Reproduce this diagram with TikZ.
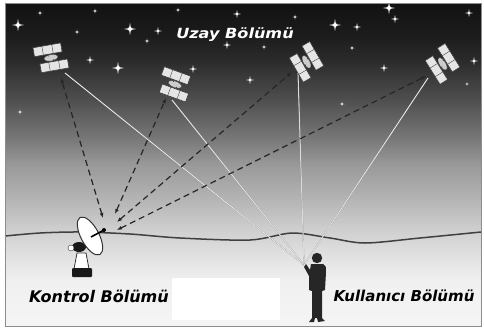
\documentclass[tikz,border=0pt]{standalone}
\usepackage{fontspec}
\newfontfamily\labelfont{DejaVu Sans}
\usetikzlibrary{arrows.meta}

% sky: dark at the top, nearly white at the ground
\pgfdeclareverticalshading{sky}{100bp}{color(0bp)=(black!4); color(25bp)=(black!4);
  color(32bp)=(black!6); color(36bp)=(black!12); color(40bp)=(black!19);
  color(44.5bp)=(black!29); color(50bp)=(black!40); color(54bp)=(black!53);
  color(60bp)=(black!69); color(66bp)=(black!83); color(70bp)=(black!89);
  color(75bp)=(black!93); color(100bp)=(black!93)}

\tikzset{link/.style = {dash pattern=on 6pt off 4pt, line width=1.2pt, black!85,
                        {Latex[length=5pt,width=4pt]}-{Latex[length=5pt,width=4pt]}}}
\tikzset{ray/.style = {draw=black!40, double=white, double distance=0.5pt,
                       line width=0.3pt}}
\tikzset{panel/.style = {fill=black!10, draw=black!75, line width=0.6pt}}
\tikzset{segtext/.style = {font=\labelfont\bfseries\itshape\fontsize{15}{15}\selectfont,
                           inner sep=0pt}}
\tikzset{pics/satellite/.style = {code = {
  \draw [panel] (-15,-13) rectangle (13,-4);
  \draw [panel] (-11,4) rectangle (17,13);
  \draw [black!75] (-6,-13) -- (-6,-4) (4,-13) -- (4,-4);
  \draw [black!75] (-2,4) -- (-2,13) (8,4) -- (8,13);
  \draw [black!75, fill=black!20] (1,0) ellipse [x radius=7, y radius=3.2];
  \draw [black!75, line width=0.8pt] (-3,-4) -- (-1,-2) (3,2) -- (5,4);
}}}

\begin{document}
\begin{tikzpicture}[x=1pt, y=-1pt]
  \useasboundingbox (0,0) rectangle (484,330);
  \shade [shading=sky] (5,3) rectangle (481,326);

  % stars
  \foreach \x/\y/\r in {18/25/6, 130/29/6, 118/68/6, 389/8/6, 335/25/6,
                        158/31/4, 227/45/4, 90/60/4, 193/69/4, 237/14/4, 395/19/4,
                        357/27/4, 469/13/4, 250/80/4, 384/68/4, 474/61/4,
                        40/13/2.5, 95/11/2.5, 77/32/2.5, 147/41/2.5, 178/10/2.5,
                        20/112/2.5, 295/17/2.5, 264/47/2.5, 352/48/2.5,
                        342/104/2.5, 467/84/2}
    {
      \fill [white, opacity=0.35] (\x,\y) circle [radius=0.4*\r];
      \fill [white] (\x,\y) +(\r,0) -- +({0.15*\r},{0.15*\r}) -- +(0,\r)
        -- +({-0.15*\r},{0.15*\r}) -- +(-\r,0) -- +({-0.15*\r},{-0.15*\r})
        -- +(0,-\r) -- +({0.15*\r},{-0.15*\r}) -- cycle;
    }

  % ground
  \draw [black!75, line width=1.5pt] plot [smooth] coordinates {(5,236) (40,233) (80,232)
    (130,234) (180,238) (250,240) (292,233) (330,238) (365,243) (420,238) (481,232)};

  \coordinate (hand) at (304,265);
  \coordinate (t1) at (61,78);
  \coordinate (t2) at (166,98);
  \coordinate (t3) at (292,72);
  \coordinate (t4) at (426,76);
  \coordinate (d1) at (103,218);
  \coordinate (d2) at (115,214);
  \coordinate (d3) at (117,222);
  \coordinate (d4) at (117,230);

  % downlinks to the user
  \draw [ray] (65,73) -- (hand);
  \draw [ray] (172,100) -- (hand);
  \draw [ray] (298,73) -- (hand);
  \draw [ray] (428,78) -- (hand);

  % control links
  \draw [link] (d1) -- (t1);
  \draw [link] (d2) -- (t2);
  \draw [link] (d3) -- (t3);
  \draw [link] (d4) -- (t4);

  \pic [rotate=10] at (50,58) {satellite};
  \pic [rotate=-20] at (174,84) {satellite};
  \pic [rotate=-60] at (306,61) {satellite};
  \pic [rotate=-58] at (442,63) {satellite};

  % ground station
  \fill [black!90] (79,247) ellipse [x radius=7, y radius=5];
  \draw [black!80, fill=white] (71,248) circle [radius=3];
  \draw [black!80, fill=white, line width=0.8pt] (77,253) -- (86,253) -- (89,269)
    -- (74,269) -- cycle;
  \fill [black!90, rounded corners=1pt] (72,268) rectangle (92,277);
  \begin{scope}[shift={(90,236)}, rotate=-62]
    \draw [black!80, fill=white, line width=1pt] (0,0) ellipse [x radius=21, y radius=9];
  \end{scope}
  \coordinate (feed) at (104,230);
  \draw [black, line width=1.6pt] (91,237) -- (feed);
  \fill [black] (feed) circle [radius=2];

  % user
  \fill [black!85] (317,258) circle [radius=5.2];
  \fill [black!85] (311,264) -- (323,264) .. controls (326,266) .. (326,272) -- (325,290)
    -- (322,291) -- (322,318) -- (325,321) -- (318,322) -- (317,318) -- (315,318)
    -- (314,322) -- (309,322) -- (312,318) -- (312,291) -- (309,290) -- (309,276)
    -- (304,267) -- (306,264) -- (310,270) -- cycle;

  \node [segtext, white, xscale=1.15,
         font=\labelfont\bfseries\itshape\fontsize{14}{14}\selectfont]
    (uzay) at (235,35) {Uzay Bölümü};
  \node [segtext, font=\labelfont\bfseries\itshape\fontsize{16}{16}\selectfont]
    (kontrol) at (99,296) {Kontrol Bölümü};
  \node [segtext] (kullanici) at (404,296) {Kullanıcı Bölümü};

  \fill [white] (172,278) rectangle (280,320);
  \draw [black!45] (5,3) rectangle (481,326);
\end{tikzpicture}
\end{document}
